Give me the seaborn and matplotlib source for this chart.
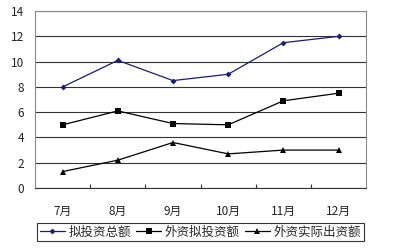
import matplotlib
matplotlib.use("Agg")
import matplotlib.pyplot as plt
import seaborn as sns
import pandas as pd
from matplotlib.ticker import MultipleLocator, FixedLocator

months = ["7月", "8月", "9月", "10月", "11月", "12月"]
total = [8.0, 10.1, 8.5, 9.0, 11.5, 12.0]
foreign_planned = [5.0, 6.1, 5.1, 5.0, 6.9, 7.5]
foreign_actual = [1.3, 2.2, 3.6, 2.7, 3.0, 3.0]
names = ["拟投资总额", "外资拟投资额", "外资实际出资额"]

sns.set_theme(style="white")
plt.rcParams['font.family'] = ['Noto Sans CJK SC', 'DejaVu Sans']

df = pd.DataFrame({
    "month": months * 3,
    "value": total + foreign_planned + foreign_actual,
    "series": [names[0]] * 6 + [names[1]] * 6 + [names[2]] * 6,
})

fig = plt.figure(figsize=(3.98, 2.52), dpi=100)
ax = fig.add_axes([0.088, 0.254, 0.832, 0.702])

palette = {names[0]: "#1a1a7a", names[1]: "#000000", names[2]: "#000000"}
markers = {names[0]: "D", names[1]: "s", names[2]: "^"}
sizes = {names[0]: 3, names[1]: 4.5, names[2]: 5}

for n in names:
    sub = df[df.series == n]
    sns.lineplot(data=sub, x="month", y="value", ax=ax, color=palette[n],
                 marker=markers[n], markersize=sizes[n], linewidth=0.9,
                 markeredgewidth=0, label=n, sort=False)

ax.set_xlim(-0.5, 5.5)
ax.set_ylim(0, 14)
ax.yaxis.set_major_locator(MultipleLocator(2))
ax.grid(axis="y", color="#333333", linewidth=0.8)
ax.set_axisbelow(True)
for s in ax.spines.values():
    s.set_color("#888888")
    s.set_linewidth(0.8)
ax.spines["bottom"].set_color("#333333")
ax.set_xlabel("")
ax.set_ylabel("")
ax.tick_params(axis="both", labelsize=8.5, colors="#222222", length=0, pad=8)
ax.tick_params(axis="x", pad=12)
ax.xaxis.set_minor_locator(FixedLocator([0.5, 1.5, 2.5, 3.5, 4.5]))
ax.tick_params(axis="x", which="minor", direction="in", length=3, width=0.8, color="#333333", bottom=True)

leg = ax.legend(loc="upper center", bbox_to_anchor=(0.5, -0.2), ncol=3,
                frameon=True, fancybox=False, fontsize=9, handlelength=2,
                handletextpad=0.3, columnspacing=0.4, borderpad=0.2,
                borderaxespad=0)
leg.get_frame().set_edgecolor("#000000")
leg.get_frame().set_linewidth(0.8)

fig.savefig("out.png", dpi=100)
